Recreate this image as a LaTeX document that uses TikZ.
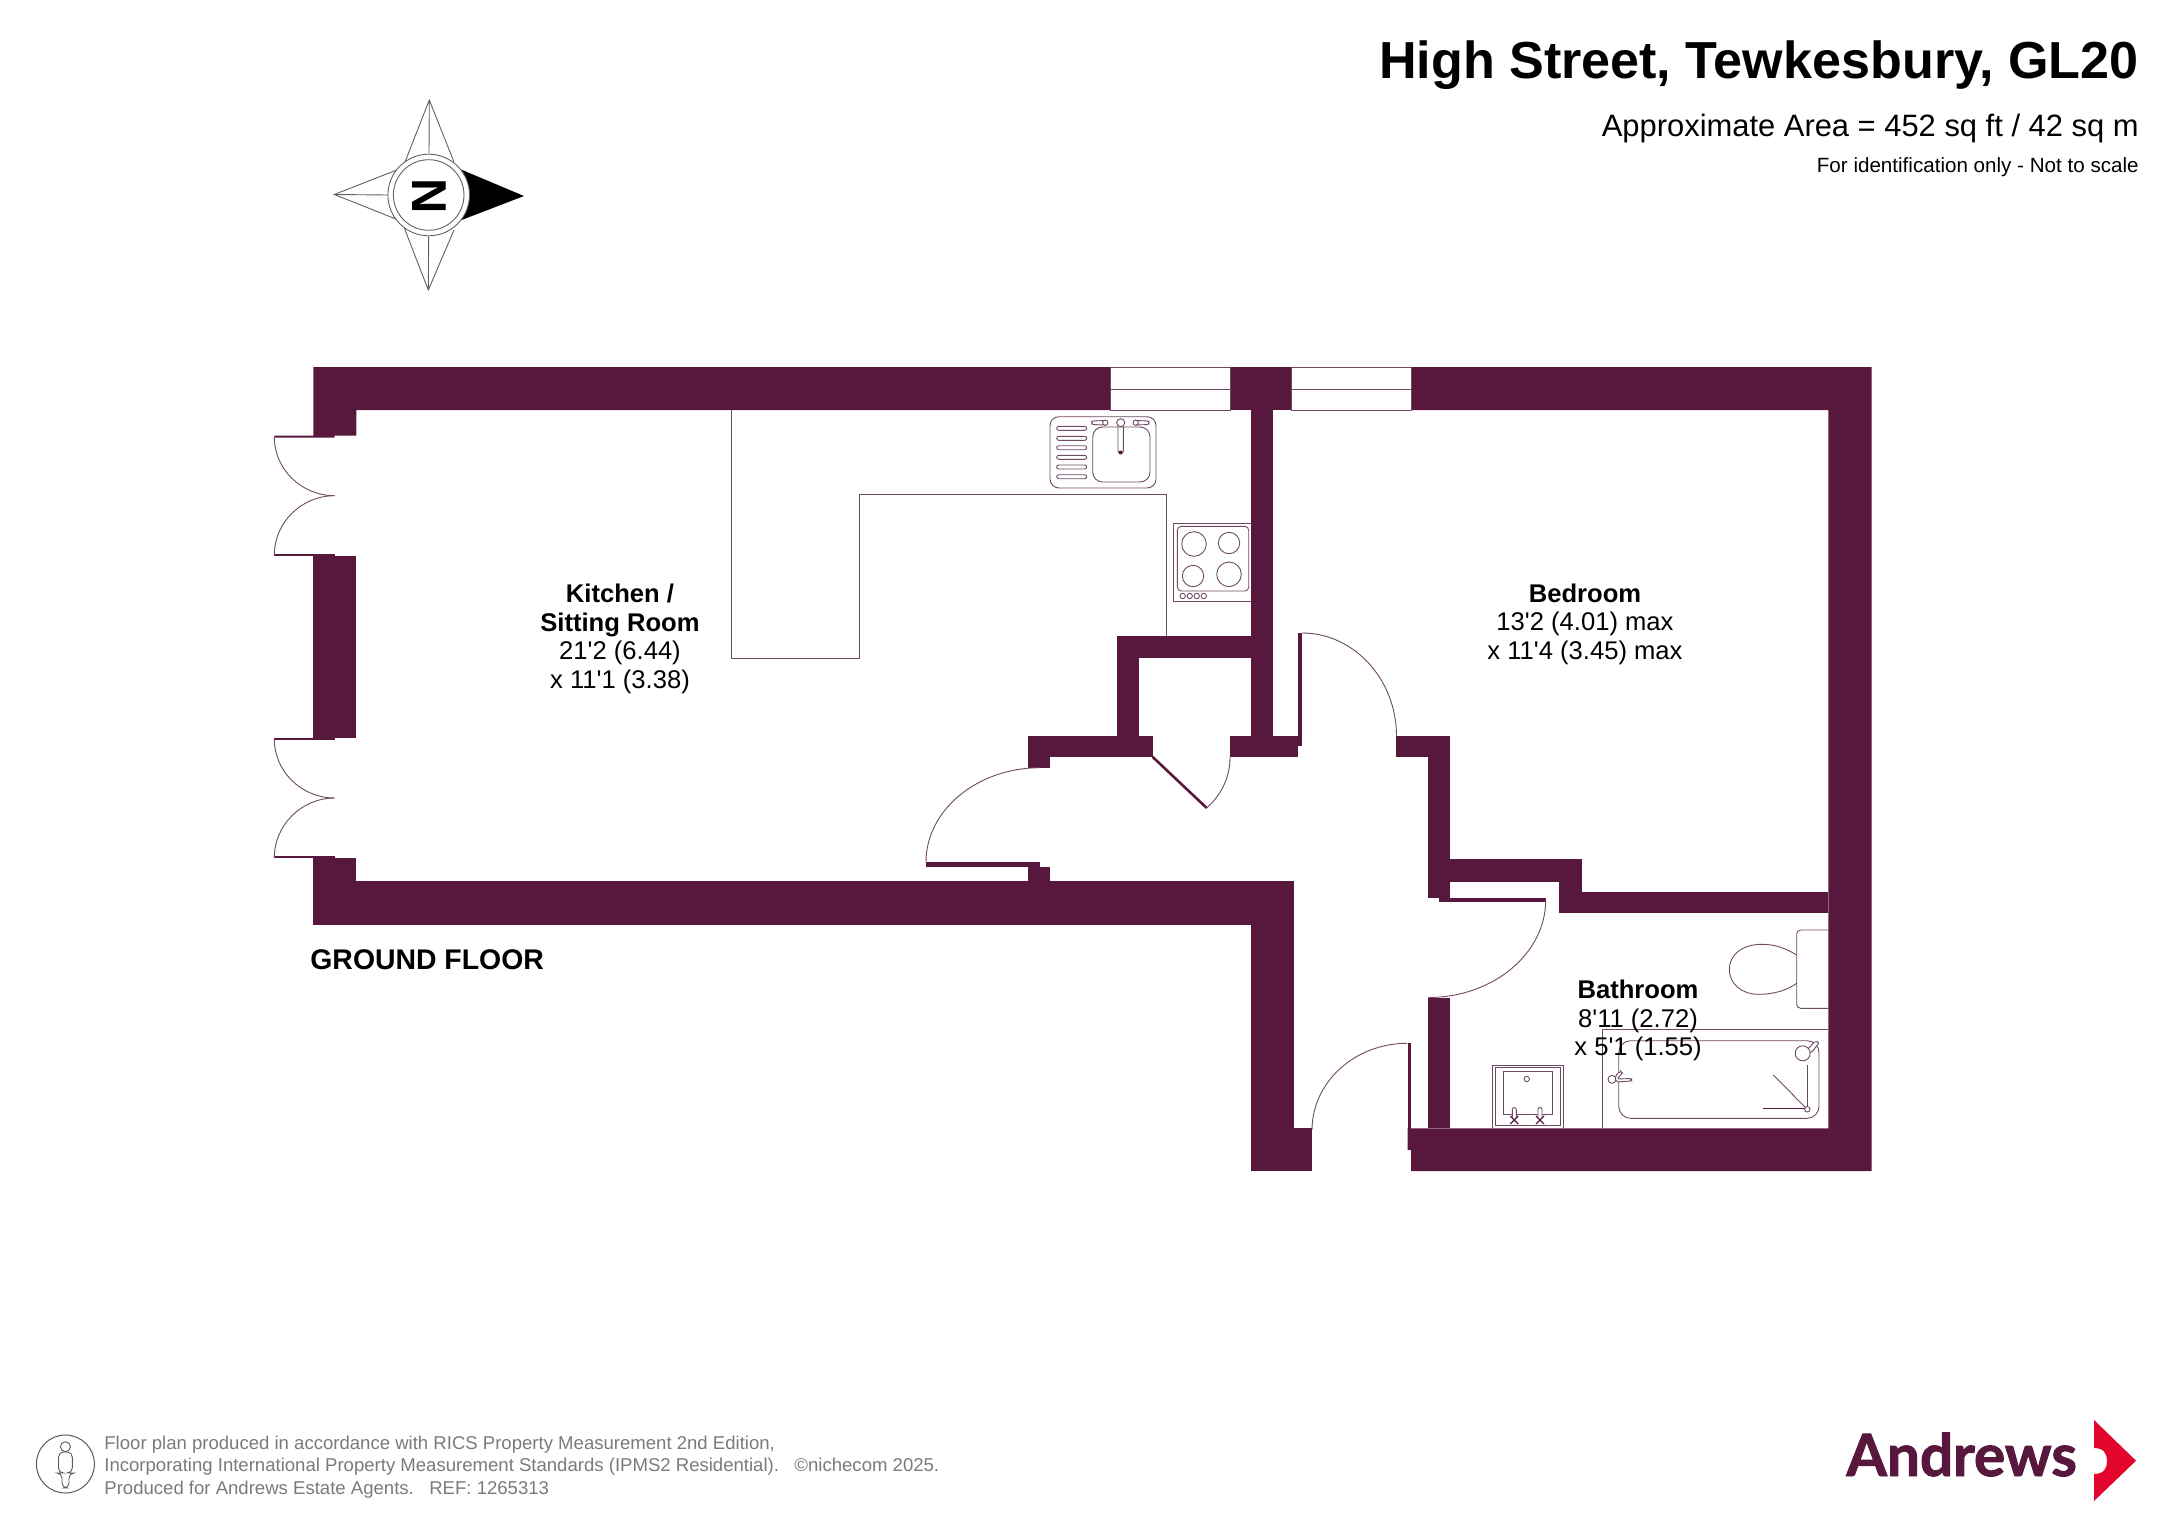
\documentclass[tikz,border=0pt]{standalone}
\usepackage{fontspec}
\usepackage{graphicx}
\setmainfont{Liberation Sans}
\newfontfamily\lsans{Liberation Sans}
\newfontfamily\logofont{Lato}[BoldFeatures={FakeBold=1.6}]
\definecolor{wallc}{HTML}{58183E}
\definecolor{linec}{HTML}{6E4A63}
\definecolor{footc}{HTML}{7A7A7A}
\definecolor{redc}{HTML}{E2062C}
\newcommand\wallrect[4]{\fill[wallc] (#1,#2) rectangle (#3,#4);}
\newcommand\qhv[4]{\draw[fine] (#1,#2) .. controls ({#1+.55*(#3-#1)},#2) and (#3,{#4-.55*(#4-#2)}) .. (#3,#4);}
\tikzset{
  fine/.style={draw=linec,line width=0.45pt},
  compass/.style={draw=black!62,line width=0.45pt},
  label/.style={inner sep=0,align=center,font=\lsans\fontsize{12.8}{14.3}\selectfont},
  foot/.style={inner sep=0,anchor=base west,text=footc,font=\fontsize{9.28}{11}\selectfont},
}
\begin{document}
\begin{tikzpicture}[x=0.5pt,y=-0.5pt]
\useasboundingbox (0,0) rectangle (2172,1536);
% ---- titles
\node[inner sep=0,anchor=base east,font=\fontsize{26.05}{30}\selectfont\bfseries] (title) at (2139,78.5) {High Street, Tewkesbury, GL20};
\node[inner sep=0,anchor=base east,font=\fontsize{15.45}{18}\selectfont] (area) at (2139,136) {Approximate Area = 452 sq ft / 42 sq m};
\node[inner sep=0,anchor=base east,font=\fontsize{10.3}{12}\selectfont] (scale) at (2139,172) {For identification only - Not to scale};
% ---- compass
\draw[compass] (405,162) -- (429.3,100) -- (454,162) (429.3,100) -- (429,154);
\draw[compass] (404.3,228) -- (428.3,290) -- (454,230) (428.3,290) -- (428.7,236);
\draw[compass] (396.7,170) -- (334.3,194.5) -- (396.7,219.3) (334.3,194.5) -- (388,195);
\fill[black] (461,169.5) -- (524,196) -- (459,221) -- (469.5,195) -- cycle;
\draw[compass,fill=white] (428.7,195) circle[radius=40.8];
\draw[compass] (428.7,195) circle[radius=35.3];
\node[inner sep=0,rotate=-90,font=\fontsize{24.5}{26}\selectfont\bfseries] (north) at (429,195.7) {N};
% ---- walls
\fill[wallc] (313.3,367) -- (1110,367) -- (1110,410) -- (356.3,410) -- (356.3,435.5) -- (334.7,435.5) -- (334.7,437.7) -- (274.3,437.7) -- (274.3,435.5) -- (313.3,435.5) -- cycle;
\wallrect{1230}{367}{1291}{410}
\wallrect{1251}{410}{1273.3}{757}
\wallrect{1117}{636}{1251}{658}
\wallrect{1117}{636}{1138.7}{757}
\wallrect{1028.3}{736}{1152.7}{757}
\wallrect{1028.3}{757}{1050}{767.7}
\wallrect{1230}{736}{1297.5}{757}
\wallrect{1273}{736}{1302}{746}
\wallrect{1297.5}{632.7}{1302}{746}
\fill[wallc] (1411,367) -- (1871.7,367) -- (1871.7,1171) -- (1411,1171) -- (1411,1150) -- (1407.7,1150) -- (1407.7,1128.3) -- (1828.3,1128.3) -- (1828.3,410) -- (1411,410) -- cycle;
\wallrect{1407.7}{1043.3}{1411}{1150}
\wallrect{1396}{736}{1450}{757}
\wallrect{1428.3}{757}{1450}{898.3}
\wallrect{1439.3}{898.3}{1545.7}{902}
\wallrect{1450}{859.3}{1581.7}{881.7}
\wallrect{1559.3}{859.3}{1581.7}{912.7}
\wallrect{1559.3}{891.7}{1828.3}{912.7}
\wallrect{1428.3}{997.7}{1450}{1128.3}
\wallrect{313.3}{858}{356.3}{925}
\wallrect{274.3}{856}{334.7}{858.4}
\wallrect{313.3}{881}{1294.3}{924.5}
\wallrect{1251}{881}{1294.3}{1171}
\wallrect{1294.3}{1128.3}{1312}{1171}
\wallrect{313.3}{556.3}{356.3}{738}
\wallrect{274.3}{553.5}{334.7}{556.3}
\wallrect{274.3}{737.7}{334.7}{740}
\wallrect{926}{861.7}{1039.7}{867}
\wallrect{1028.3}{867}{1050}{881}
\draw[wallc,line width=1.3pt] (1152.7,757) -- (1206.7,808);
% ---- windows
\draw[fine] (1110,367) rectangle (1230,410) (1110,389) -- (1230,389);
\draw[fine] (1291,367) rectangle (1411,410) (1291,389) -- (1411,389);
% ---- door swings
\qhv{334.7}{495.7}{274.3}{437}
\qhv{334.7}{495.7}{274.3}{555}
\qhv{334.7}{798}{274.3}{739}
\qhv{334.7}{798}{274.3}{858}
\qhv{1302}{633}{1396.5}{736}
\qhv{1040}{767.7}{926}{862}
\draw[fine] (1230,757) .. controls (1230,778) and (1221,795) .. (1206.7,808);
\qhv{1428.3}{997.5}{1545.7}{900}
\qhv{1407}{1043.3}{1312}{1130}
% ---- kitchen worktop
\draw[fine] (731.5,410) -- (731.5,658) -- (859,658) -- (859,494.7) -- (1166.7,494.7) -- (1166.7,636);
% ---- sink
\draw[fine,rounded corners=4.5pt] (1050,416.7) rectangle (1156,488);
\draw[fine,rounded corners=5pt] (1092.7,427) rectangle (1150,482);
\foreach \yy in {428.3,438.3,447.7,457.3,467,476.7}{
  \draw[fine,rounded corners=1pt] (1056.7,{\yy-2}) rectangle (1086.7,{\yy+2});
}
\draw[fine,fill=white] (1120.7,422.7) circle[radius=4];
\draw[fine,rounded corners=1pt] (1118,426.7) -- (1118,453) -- (1123.3,453) -- (1123.3,426.7);
\fill[wallc] (1120.7,452.5) circle[radius=2];
\draw[fine,rounded corners=1pt] (1105.3,420.5) -- (1091.7,421) -- (1091.7,424.5) -- (1105.3,425);
\draw[fine] (1105.3,422.7) circle[radius=2.7];
\draw[fine,rounded corners=1pt] (1135.7,420.5) -- (1149,421) -- (1149,424.5) -- (1135.7,425);
\draw[fine] (1135.7,422.7) circle[radius=2.7];
% ---- cooker
\draw[fine] (1251,523.3) -- (1173.7,523.3) -- (1173.7,601.7) -- (1251,601.7);
\draw[fine,rounded corners=2pt] (1177.3,526.3) rectangle (1248.7,591);
\draw[fine] (1194,544) circle[radius=12.3];
\draw[fine] (1229,543) circle[radius=10.7];
\draw[fine] (1193,576) circle[radius=10.7];
\draw[fine] (1229,574.3) circle[radius=12.3];
\foreach \xx in {1182.7,1189.7,1196.7,1203.7}{\draw[fine] (\xx,596) circle[radius=2.7];}
% ---- toilet
\draw[fine,rounded corners=2pt] (1828.3,930) -- (1796.7,930) -- (1796.7,1008.3) -- (1828.3,1008.3);
\draw[fine] (1796.7,955) .. controls (1785,948) and (1775,944.3) .. (1761.7,944.3) .. controls (1742,944.3) and (1729.3,955) .. (1729.3,969.3) .. controls (1729.3,984) and (1742,994.3) .. (1758,994.3) .. controls (1775,994.3) and (1787,990) .. (1796.7,983.3);
% ---- bath
\draw[fine] (1602.3,1128.3) -- (1602.3,1029.3) -- (1828.3,1029.3);
\draw[fine,rounded corners=6pt] (1618.7,1040.7) rectangle (1819,1118.3);
\draw[fine,fill=white] (1612,1079.3) circle[radius=4];
\draw[fine,fill=white,rounded corners=1pt] (1615,1076) -- (1620.5,1071) -- (1622.5,1073) -- (1617,1079) -- (1631.7,1078.5) -- (1631.7,1081) -- (1616,1082) -- cycle;
\draw[fine,fill=white,rounded corners=1pt] (1807,1050) -- (1815.5,1040.7) -- (1819.3,1042.5) -- (1811,1053) -- cycle;
\draw[fine,fill=white] (1802.7,1053.3) circle[radius=7.5];
\draw[fine] (1807.3,1107) -- (1807.3,1065);
\draw[fine] (1805.5,1107.5) -- (1773.3,1075);
\draw[wallc,line width=0.7pt] (1763.3,1108.7) -- (1804.5,1108.7);
\draw[fine] (1807.3,1109.3) circle[radius=2.7];
% ---- basin
\draw[fine] (1492,1128.3) -- (1492,1065) -- (1563.3,1065) -- (1563.3,1128.3);
\draw[fine] (1495.3,1125.7) rectangle (1560,1067.7);
\draw[fine] (1503,1071.3) rectangle (1552.7,1114.3);
\draw[fine] (1526.7,1079) circle[radius=2.7];
\foreach \xx in {1514.3,1540}{
  \draw[fine,fill=white,rounded corners=1pt] (\xx-2,1117) -- (\xx-2,1107.5) -- (\xx+2,1107.5) -- (\xx+2,1117);
  \draw[wallc,line width=0.6pt] (\xx-4,1116) -- (\xx+4,1124) (\xx+4,1116) -- (\xx-4,1124);
}
% ---- room labels
\node[label] (kitchen) at (620,639) {\textbf{Kitchen /}\\\textbf{Sitting Room}\\21'2 (6.44)\\x 11'1 (3.38)};
\node[label] (bedroom) at (1585,624) {\textbf{Bedroom}\\13'2 (4.01) max\\x 11'4 (3.45) max};
\node[label] (bathroom) at (1638,1020.5) {\textbf{Bathroom}\\8'11 (2.72)\\x 5'1 (1.55)};
\node[inner sep=0,anchor=base west,font=\fontsize{14.2}{16}\selectfont\bfseries] (ground) at (310,969.5) {GROUND FLOOR};
% ---- footer
\draw[line width=0.5pt,draw=black!65] (65.4,1464) circle[radius=29];
\draw[line width=0.45pt,draw=black!65] (65.4,1446.7) circle[radius=5];
\draw[line width=0.45pt,draw=black!65,rounded corners=2.5pt] (62,1488) -- (62,1473) -- (58.5,1473) -- (58.5,1452) -- (72.3,1452) -- (72.3,1473) -- (69,1473) -- (69,1488) -- cycle;
\node[foot] (f1) at (104,1449) {Floor plan produced in accordance with RICS Property Measurement 2nd Edition,};
\node[foot] (f2) at (104,1471.5) {Incorporating International Property Measurement Standards (IPMS2 Residential).\ \ \ ©nichecom 2025.};
\node[foot] (f3) at (104,1494) {Produced for Andrews Estate Agents.\ \ \ REF: 1265313};
% ---- logo
\node[inner sep=0,anchor=base west,text=wallc] (logo) at (1846,1476) {\logofont\bfseries\fontsize{29.2}{32}\selectfont Andrews};
\fill[redc] (2094,1420) -- (2136,1460.7) -- (2094,1501) -- (2094,1474) .. controls (2104,1474) and (2107,1468) .. (2107,1461) .. controls (2107,1454) and (2104,1448) .. (2094,1448) -- cycle;
\end{tikzpicture}
\end{document}
